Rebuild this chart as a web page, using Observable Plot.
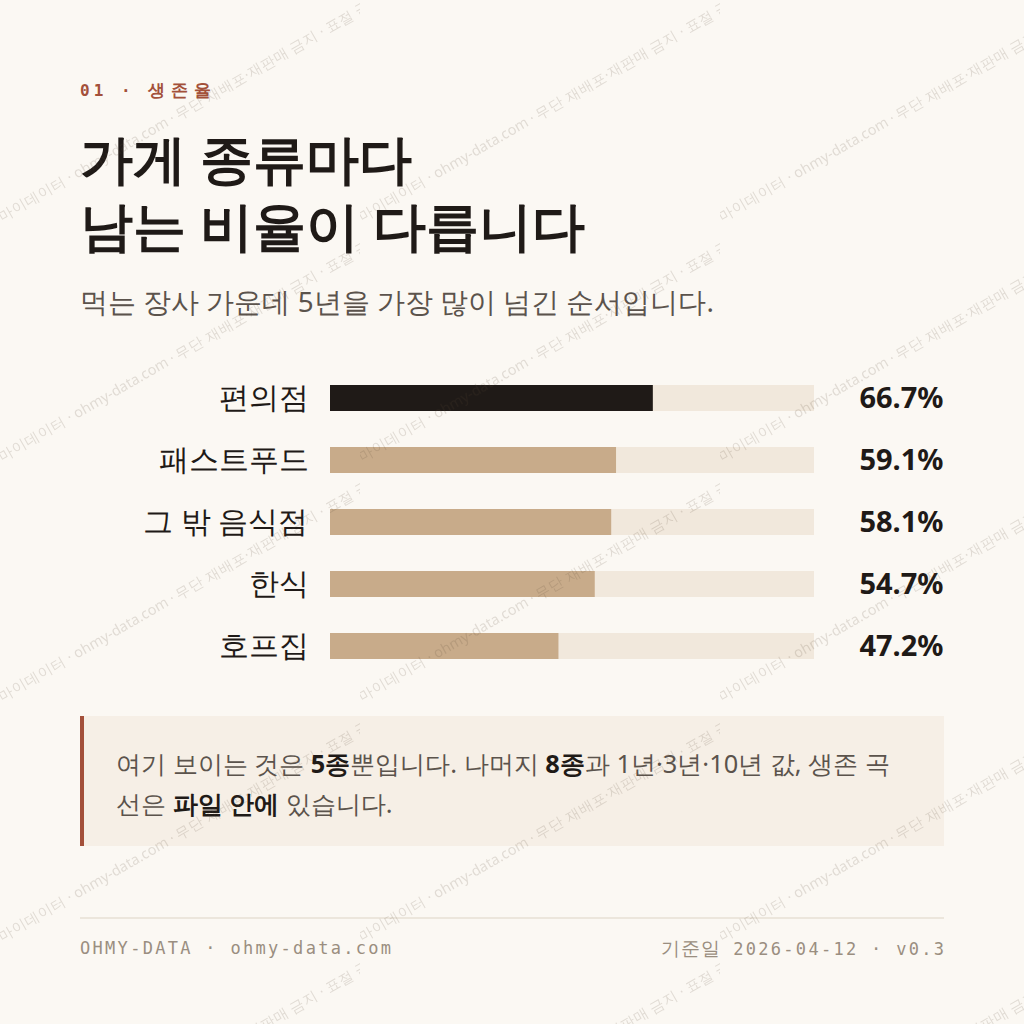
<!DOCTYPE html>
<html lang="ko">
<head>
<meta charset="utf-8">
<script src="https://cdn.jsdelivr.net/npm/d3@7"></script>
<script src="https://cdn.jsdelivr.net/npm/@observablehq/plot@0.6"></script>
<style>
  html, body { margin: 0; padding: 0; }
  body {
    width: 1024px; height: 1024px; position: relative; overflow: hidden;
    background: #fbf8f3; font-family: "Noto Sans", sans-serif; color: #1f1a17;
  }
  .abs { position: absolute; left: 80px; white-space: nowrap; }
  #eyebrow {
    top: 79px; font-family: "DejaVu Sans Mono", monospace; font-weight: 700;
    font-size: 16px; line-height: 22px; letter-spacing: 4px; color: #a3503a;
  }
  #eyebrow .k { font-size: 17px; letter-spacing: 6px; }
  #title {
    top: 124px; margin: 0; font-size: 53px; line-height: 67px; font-weight: 700; color: #1f1a17;
  }
  #subtitle {
    top: 282px; font-size: 27.8px; line-height: 38px; color: #5b534c; font-weight: 400;
  }
  #chart { top: 367px; width: 864px; }
  #note {
    top: 716px; width: 864px; height: 130px; box-sizing: border-box; white-space: normal;
    background: #f6efe6; border-left: 4px solid #a3503a;
    padding: 27px 36px 20px 32px; font-size: 25.4px; line-height: 40px; color: #5b534c;
  }
  #note b { color: #1f1a17; font-weight: 700; }
  #rule { top: 917px; width: 864px; height: 2px; background: #ece6dc; }
  .foot {
    top: 936px; font-family: "DejaVu Sans Mono", monospace; font-size: 17px; line-height: 24px;
    letter-spacing: 2.3px; color: #9a8e80;
  }
  #footR { left: auto; right: 80px; margin-right: -2.3px; }
  #footR .k { font-size: 19px; letter-spacing: 1px; }
  #wm {
    position: absolute; left: 0; top: 0; width: 1024px; height: 1024px; pointer-events: none;
  }
</style>
</head>
<body>
<div id="eyebrow" class="abs">01 · <span class="k">생존율</span></div>
<h1 id="title" class="abs">가게 종류마다<br>남는 비율이 다릅니다</h1>
<div id="subtitle" class="abs">먹는 장사 가운데 5년을 가장 많이 넘긴 순서입니다.</div>
<div id="chart" class="abs"></div>
<div id="note" class="abs">여기 보이는 것은 <b>5종</b>뿐입니다. 나머지 <b>8종</b>과 1년·3년·10년 값, 생존 곡선은 <b>파일 안에</b> 있습니다.</div>
<div id="rule" class="abs"></div>
<div id="footL" class="abs foot">OHMY-DATA · ohmy-data.com</div>
<div id="footR" class="abs foot"><span class="k">기준일</span> 2026-04-12 · v0.3</div>
<svg id="wm" xmlns="http://www.w3.org/2000/svg"></svg>
<script>
// ---- data ----
const categories = ["편의점", "패스트푸드", "그 밖 음식점", "한식", "호프집"];
const survival5y = [66.7, 59.1, 58.1, 54.7, 47.2];
const highlighted = ["편의점"];
const shareMax = 100;
const watermarkText = "마이데이터 · ohmy-data.com · 무단 재배포·재판매 금지 · 표절 금지";

const rows = categories.map((name, i) => ({name, value: survival5y[i], hi: highlighted.includes(name)}));

const dark = "#1f1a17", tan = "#c8ab8a", track = "#f1e8dc";

const chart = Plot.plot({
  width: 864,
  height: 310,
  marginLeft: 250,
  marginRight: 130,
  marginTop: 0,
  marginBottom: 0,
  style: {fontFamily: "'Noto Sans', sans-serif", background: "transparent", color: dark, overflow: "visible"},
  x: {domain: [0, shareMax], axis: null},
  y: {domain: categories, axis: null, paddingInner: 0.58, paddingOuter: 0.29},
  marks: [
    Plot.barX(rows, {x1: 0, x2: shareMax, y: "name", fill: track}),
    Plot.barX(rows, {x1: 0, x2: "value", y: "name", fill: d => d.hi ? dark : tan}),
    Plot.text(rows, {x: 0, y: "name", text: "name", dx: -22, textAnchor: "end", fontSize: 30, fill: dark}),
    Plot.text(rows, {x: shareMax, y: "name", text: d => d.value.toFixed(1) + "%", dx: 129, textAnchor: "end",
      fontSize: 29, fontWeight: 700, fill: dark})
  ]
});
document.getElementById("chart").append(chart);

// ---- watermark (tiled pattern) ----
const wm = d3.select("#wm");
const pat = wm.append("defs").append("pattern")
  .attr("id", "wmpat").attr("patternUnits", "userSpaceOnUse")
  .attr("x", 0).attr("y", 0).attr("width", 360).attr("height", 240);
pat.append("text")
  .attr("x", 2).attr("y", 222)
  .attr("transform", "rotate(-30 2 222)")
  .attr("font-family", "'Noto Sans', sans-serif")
  .attr("font-size", 14.5)
  .attr("fill", "#5a4632")
  .attr("fill-opacity", 0.16)
  .text(watermarkText);
wm.append("rect").attr("width", 1024).attr("height", 1024).attr("fill", "url(#wmpat)");
</script>
</body>
</html>
